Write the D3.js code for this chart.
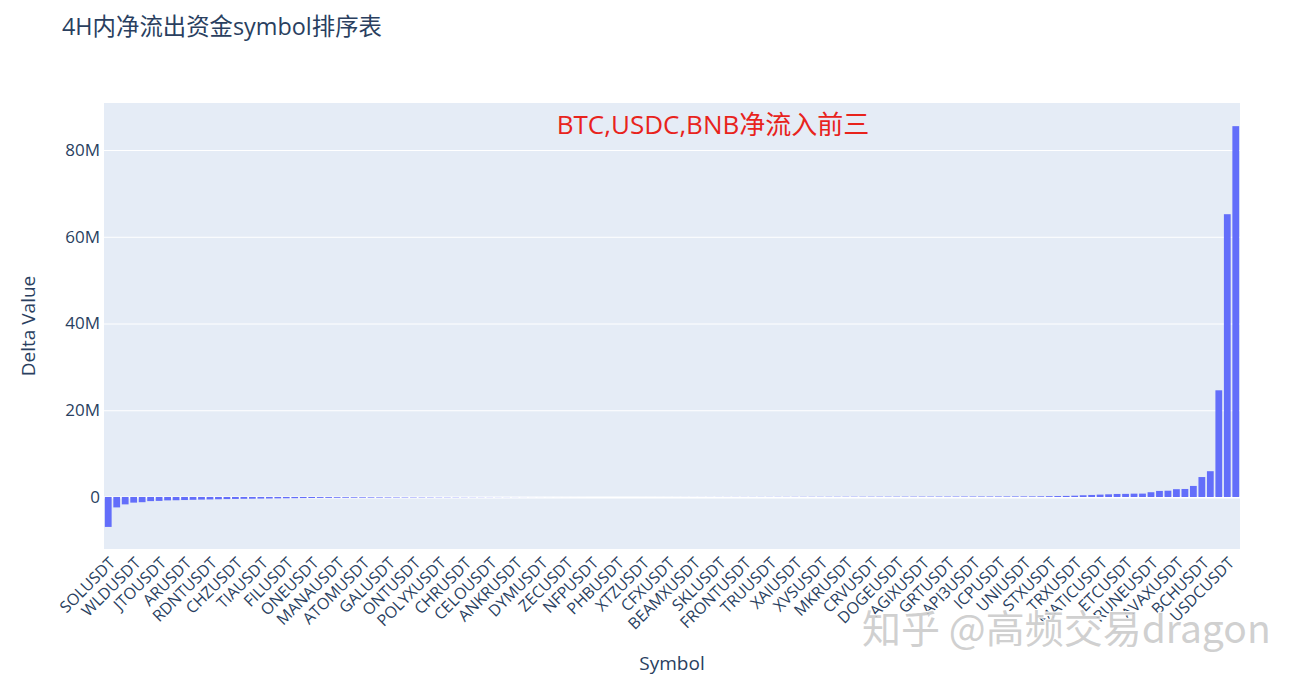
<!DOCTYPE html>
<html><head><meta charset="utf-8">
<script src="https://cdn.jsdelivr.net/npm/d3@7"></script>
<style>
html,body{margin:0;padding:0;background:#fff;}
text{font-family:"Open Sans","Noto Sans CJK SC",sans-serif;}
</style></head>
<body><svg id="chart" width="1307" height="686"></svg>
<script>
// ---- data ----
const categories = [
"SOLUSDT","ETHUSDT","OPUSDT","WLDUSDT","ARBUSDT","SUIUSDT","JTOUSDT","INJUSDT","SEIUSDT","ARUSDT",
"STRKUSDT","PYTHUSDT","RDNTUSDT","ORDIUSDT","1000PEPEUSDT","CHZUSDT","NEARUSDT","APTUSDT","TIAUSDT","FETUSDT",
"RNDRUSDT","FILUSDT","WIFUSDT","JUPUSDT","ONEUSDT","MANTAUSDT","ALTUSDT","MANAUSDT","SANDUSDT","AXSUSDT",
"ATOMUSDT","GALAUSDT","APEUSDT","GALUSDT","IMXUSDT","GMTUSDT","ONTUSDT","LDOUSDT","DYDXUSDT","POLYXUSDT",
"BLURUSDT","ARKMUSDT","CHRUSDT","CYBERUSDT","IDUSDT","CELOUSDT","EDUUSDT","MAVUSDT","ANKRUSDT","HOOKUSDT",
"HIGHUSDT","DYMUSDT","MAGICUSDT","GMXUSDT","ZECUSDT","SSVUSDT","RPLUSDT","NFPUSDT","PENDLEUSDT","AAVEUSDT",
"PHBUSDT","COMPUSDT","SNXUSDT","XTZUSDT","SUSHIUSDT","1INCHUSDT","CFXUSDT","YFIUSDT","BALUSDT","BEAMXUSDT",
"UMAUSDT","BANDUSDT","SKLUSDT","KAVAUSDT","ROSEUSDT","FRONTUSDT","ZILUSDT","IOTAUSDT","TRUUSDT","EOSUSDT",
"NEOUSDT","XAIUSDT","QTUMUSDT","ICXUSDT","XVSUSDT","VETUSDT","THETAUSDT","MKRUSDT","EGLDUSDT","ALGOUSDT",
"CRVUSDT","HBARUSDT","XLMUSDT","DOGEUSDT","DASHUSDT","ZENUSDT","AGIXUSDT","KSMUSDT","FLOWUSDT","GRTUSDT",
"ENJUSDT","LRCUSDT","API3USDT","STORJUSDT","OCEANUSDT","ICPUSDT","MASKUSDT","WOOUSDT","UNIUSDT","C98USDT",
"ALICEUSDT","STXUSDT","COTIUSDT","CELRUSDT","TRXUSDT","SXPUSDT","LINKUSDT","MATICUSDT","ADAUSDT","DOTUSDT",
"ETCUSDT","LTCUSDT","XRPUSDT","RUNEUSDT","TRBUSDT","1000SHIBUSDT","AVAXUSDT","FTMUSDT","1000BONKUSDT","BCHUSDT",
"1000FLOKIUSDT","BNBUSDT","USDCUSDT","BTCUSDT"];

// delta values, in millions
const deltaMillions = [
-6.9,-2.4,-1.7,-1.3,-1.2,-0.95,-0.9,-0.78,-0.75,-0.7,
-0.65,-0.6,-0.56,-0.52,-0.48,-0.45,-0.42,-0.4,-0.37,-0.35,
-0.32,-0.3,-0.28,-0.25,-0.23,-0.21,-0.2,-0.18,-0.17,-0.16,
-0.15,-0.14,-0.13,-0.12,-0.11,-0.1,-0.09,-0.085,-0.08,-0.07,
-0.065,-0.06,-0.05,-0.045,-0.04,-0.035,-0.03,-0.025,-0.02,-0.015,
-0.01,-0.008,-0.006,-0.005,-0.004,-0.003,-0.002,-0.001,-0.0005,0,
0,0.0005,0.001,0.002,0.003,0.004,0.005,0.006,0.008,0.01,
0.012,0.014,0.016,0.018,0.02,0.022,0.025,0.028,0.03,0.033,
0.036,0.04,0.043,0.046,0.05,0.053,0.056,0.06,0.063,0.066,
0.07,0.073,0.076,0.08,0.083,0.086,0.09,0.093,0.097,0.1,
0.104,0.108,0.112,0.116,0.12,0.124,0.128,0.132,0.136,0.14,
0.16,0.19,0.22,0.25,0.3,0.4,0.47,0.55,0.62,0.7,
0.72,0.77,0.78,1.1,1.4,1.45,1.8,1.85,2.55,4.6,
5.95,24.6,65.2,85.5];

const yTickValues = [0, 20e6, 40e6, 60e6, 80e6];
const yTickLabels = ["0", "20M", "40M", "60M", "80M"];
const xTickLabels = categories.filter((d, i) => i % 3 === 0);

const titleText = "4H内净流出资金symbol排序表";
const annotationText = "BTC,USDC,BNB净流入前三";
const xTitle = "Symbol";
const yTitle = "Delta Value";
const watermarkText = "知乎 @高频交易dragon";

// ---- layout ----
const svg = d3.select("#chart");
const W = 1307, H = 686;
const plot = {left: 104, right: 1240, top: 103, bottom: 549};
const fg = "#2a3f5f";

const data = categories.map((c, i) => ({cat: c, v: deltaMillions[i] * 1e6}));

const x = d3.scaleBand().domain(categories).range([plot.left, plot.right])
  .paddingInner(0.2).paddingOuter(0.1);
const y = d3.scaleLinear().domain([-11.99e6, 90.84e6]).range([plot.bottom, plot.top]);

svg.append("rect").attr("width", W).attr("height", H).attr("fill", "#fff");
svg.append("rect").attr("x", plot.left).attr("y", plot.top)
  .attr("width", plot.right - plot.left).attr("height", plot.bottom - plot.top)
  .attr("fill", "#E5ECF6");

// gridlines
const yAxisG = svg.append("g").attr("transform", `translate(${plot.left},0)`)
  .call(d3.axisLeft(y).tickValues(yTickValues)
    .tickFormat((d, i) => yTickLabels[i]).tickSize(-(plot.right - plot.left)).tickPadding(4));
yAxisG.select(".domain").remove();
yAxisG.selectAll(".tick line").attr("stroke", "#fff").attr("stroke-width", d => d === 0 ? 2 : 1);
yAxisG.selectAll(".tick text").attr("fill", fg).style("font-size", "17px")
  .style("font-family", '"Open Sans", sans-serif');

// bars
svg.append("g").selectAll("rect").data(data).join("rect")
  .attr("x", d => x(d.cat))
  .attr("width", x.bandwidth())
  .attr("y", d => y(Math.max(0, d.v)))
  .attr("height", d => Math.abs(y(d.v) - y(0)))
  .attr("fill", "#636efa");

// x axis
const xAxisG = svg.append("g").attr("transform", `translate(0,${plot.bottom})`)
  .call(d3.axisBottom(x).tickValues(xTickLabels).tickSize(0).tickPadding(0));
xAxisG.select(".domain").remove();
xAxisG.selectAll(".tick text")
  .attr("fill", fg).style("font-size", "16px")
  .attr("text-anchor", "end")
  .attr("dy", null).attr("y", null)
  .attr("transform", "translate(5,12) rotate(-45)")
  .attr("dominant-baseline", "middle");

// titles
svg.append("text").attr("x", 62).attr("y", 35).attr("fill", fg)
  .style("font-size", "23.4px").text(titleText);
svg.append("text").attr("x", (plot.left + plot.right) / 2).attr("y", 670)
  .attr("text-anchor", "middle").attr("fill", fg).style("font-size", "19px").text(xTitle);
svg.append("text").attr("transform", `translate(35,${(plot.top + plot.bottom) / 2}) rotate(-90)`)
  .attr("text-anchor", "middle").attr("fill", fg).style("font-size", "19px").text(yTitle);

// annotation
svg.append("text").attr("x", 713).attr("y", 134).attr("text-anchor", "middle")
  .attr("fill", "#e8231c").style("font-size", "26px").text(annotationText);

// watermark
svg.append("text").attr("x", 862).attr("y", 643)
  .attr("fill", "#c4c4c4").attr("fill-opacity", 0.8)
  .attr("stroke", "#ffffff").attr("stroke-width", 2).attr("paint-order", "stroke")
  .style("font-size", "39px").style("font-family", '"Noto Sans CJK SC","Open Sans",sans-serif')
  .text(watermarkText);
</script></body></html>
